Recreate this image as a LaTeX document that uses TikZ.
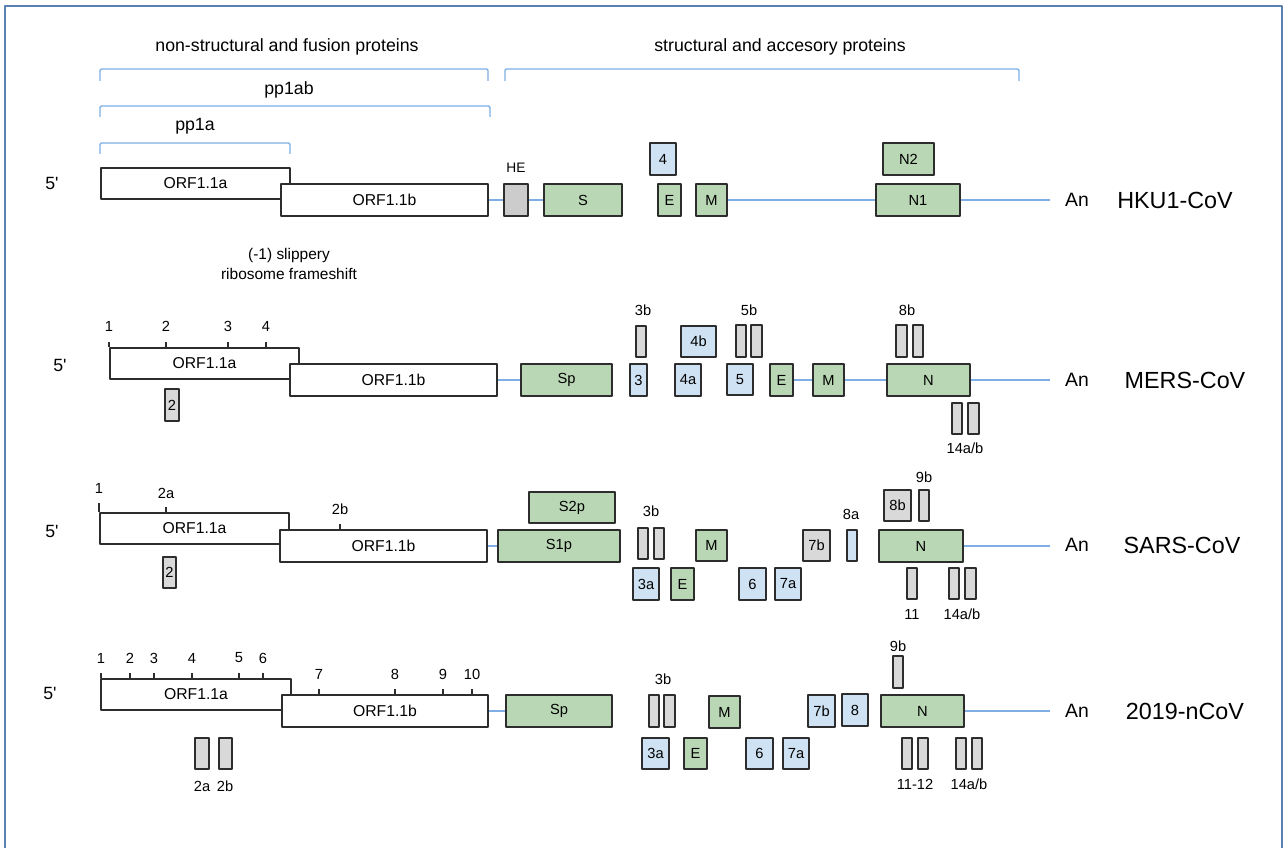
\documentclass[tikz,border=0pt]{standalone}
\usepackage{fontspec}
\setmainfont{Liberation Sans}
\definecolor{frameblue}{RGB}{91,128,178}
\definecolor{linkblue}{RGB}{125,175,228}
\definecolor{boxline}{RGB}{45,45,45}
\definecolor{strgreen}{RGB}{185,215,180}
\definecolor{accblue}{RGB}{207,226,243}
\definecolor{accgray}{RGB}{217,217,217}
\definecolor{hegray}{RGB}{204,204,204}
\tikzset{
  orf/.style={draw=boxline, line width=1.25pt, fill=white, inner sep=0pt, font=\fontsize{11.8}{14}\selectfont},
  str/.style={orf, fill=strgreen, font=\fontsize{11}{13}\selectfont},
  acc/.style={str, fill=accblue},
  mis/.style={str, fill=accgray},
  link/.style={draw=linkblue, line width=1pt},
  brace/.style={draw=linkblue, line width=1pt, rounded corners=1pt},
  lbl/.style={inner sep=0pt, font=\fontsize{11}{13}\selectfont},
  head/.style={inner sep=0pt, font=\fontsize{13.3}{16}\selectfont},
  virus/.style={inner sep=0pt, font=\fontsize{17.5}{20}\selectfont},
  polya/.style={inner sep=0pt, font=\fontsize{14.5}{17}\selectfont},
}
% box from its corners: style, name, x1, y1, x2, y2, text
\newcommand{\gene}[7]{%
  \pgfmathsetmacro{\genew}{0.75*(#5-#3)-1.2}%
  \pgfmathsetmacro{\geneh}{0.75*(#6-#4)-1.2}%
  \node[#1, minimum width=\genew pt, minimum height=\geneh pt] (#2) at ({(#3+#5)/2},{(#4+#6)/2}) {#7};}
\begin{document}
\begin{tikzpicture}[x=0.75pt, y=-0.75pt, line join=round]
\useasboundingbox (0,0) rectangle (1287,848);
\draw[frameblue, line width=1.6pt] (5,848) -- (5,6) -- (1282,6) -- (1282,848);
% headings and brackets
\node[head] (nsp) at (287,47) {non-structural and fusion proteins};
\node[head] (sap) at (780,47) {structural and accesory proteins};
\draw[brace] (100,81) -- (100,69) -- (488,69) -- (488,81);
\draw[brace] (505,81) -- (505,69) -- (1019,69) -- (1019,81);
\node[head] (pp1ab) at (289,90) {pp1ab};
\draw[brace] (100,117) -- (100,106) -- (490,106) -- (490,117);
\node[head] (pp1a) at (195,126) {pp1a};
\draw[brace] (100,154) -- (100,143) -- (290,143) -- (290,154);
\node[lbl, align=center, font=\fontsize{11.6}{14.3}\selectfont] (shift) at (289,264) {(-1) slippery\\ribosome frameshift};

% HKU1-CoV
\node[head] (fiveA) at (52,183) {5\textquotesingle};
\gene{orf}{a1}{100}{167}{291}{200}{ORF1.1a}
\gene{orf}{b1}{280}{183}{489}{217}{ORF1.1b}
\gene{str, fill=hegray}{he1}{503}{183}{529}{217}{}
\node[lbl, font=\fontsize{10.3}{12}\selectfont] (heA) at (516,168) {HE};
\gene{str}{s1}{543}{183}{623}{217}{S}
\gene{acc}{f1}{649}{142}{677}{176}{4}
\gene{str}{e1}{657}{183}{682}{217}{E}
\gene{str}{m1}{695}{183}{728}{217}{M}
\gene{str}{nb1}{882}{142}{935}{176}{N2}
\gene{str}{n1}{875}{183}{961}{217}{N1}
\coordinate (end1) at (1050,200);
\draw[link] (b1) -- (he1) (he1) -- (s1) (m1) -- (n1) (n1) -- (end1);
\node[polya] (an1) at (1077,200) {An};
\node[virus] (v1) at (1175,200) {HKU1-CoV};

% MERS-CoV
\node[head] (fiveB) at (60,365) {5\textquotesingle};
\gene{orf}{a2}{109}{347}{300}{380}{ORF1.1a}
\gene{orf}{b2}{289}{363}{498}{397}{ORF1.1b}
\foreach \x/\l in {109/1,166/2,228/3,266/4}
  {\draw[boxline, line width=0.8pt] (\x,347) -- (\x,342); \node[lbl] (mt\l) at (\x,326) {\l};}
\gene{mis}{two2}{164}{388}{180}{422}{2}
\gene{str}{sp2}{520}{363}{613}{397}{Sp}
\gene{mis}{tb2}{635}{325}{647}{358}{}
\node[lbl] (tbl2) at (643,310) {3b};
\gene{acc}{t2}{629}{363}{648}{397}{3}
\gene{acc}{fb2}{680}{325}{717}{358}{4b}
\gene{acc}{fa2}{674}{363}{702}{397}{4a}
\gene{mis}{vba2}{735}{324}{747}{358}{}
\gene{mis}{vbb2}{750}{324}{763}{358}{}
\node[lbl] (vbl2) at (749,310) {5b};
\gene{acc}{v2}{726}{363}{754}{396}{5}
\gene{str}{e2}{769}{363}{794}{397}{E}
\gene{str}{m2}{812}{363}{845}{397}{M}
\gene{mis}{eba2}{895}{324}{908}{358}{}
\gene{mis}{ebb2}{912}{324}{924}{358}{}
\node[lbl] (ebl2) at (907,310) {8b};
\gene{str}{n2}{886}{363}{971}{397}{N}
\gene{mis}{fta2}{951}{402}{963}{435}{}
\gene{mis}{ftb2}{967}{402}{980}{435}{}
\node[lbl] (ftl2) at (965,448) {14a/b};
\coordinate (end2) at (1050,380);
\draw[link] (b2) -- (sp2) (e2) -- (m2) (m2) -- (n2) (n2) -- (end2);
\node[polya] (an2) at (1077,380) {An};
\node[virus] (v2) at (1185,380) {MERS-CoV};

% SARS-CoV
\node[head] (fiveC) at (52,531) {5\textquotesingle};
\gene{orf}{a3}{99}{512}{290}{545}{ORF1.1a}
\gene{orf}{b3}{279}{529}{488}{563}{ORF1.1b}
\draw[boxline, line width=0.8pt] (99,512) -- (99,503) (166,512) -- (166,507) (340,529) -- (340,524);
\node[lbl] (st1) at (99,488) {1};
\node[lbl] (st2a) at (166,493) {2a};
\node[lbl] (st2b) at (340,509) {2b};
\gene{mis}{two3}{162}{556}{177}{589}{2}
\gene{str}{stp3}{528}{491}{616}{524}{S2p}
\gene{str}{sop3}{497}{529}{621}{563}{S1p}
\gene{mis}{tba3}{637}{527}{649}{560}{}
\gene{mis}{tbb3}{653}{527}{665}{560}{}
\node[lbl] (tbl3) at (651,511) {3b};
\gene{acc}{ta3}{632}{567}{660}{601}{3a}
\gene{str}{e3}{670}{567}{695}{601}{E}
\gene{str}{m3}{695}{529}{728}{562}{M}
\gene{acc}{x3}{738}{567}{767}{601}{6}
\gene{acc}{sa3}{774}{567}{802}{601}{7a}
\gene{mis}{sb3}{802}{529}{831}{562}{7b}
\gene{acc}{ea3}{846}{529}{858}{562}{}
\node[lbl] (eal3) at (851,514) {8a};
\gene{mis}{eb3}{883}{489}{912}{522}{8b}
\gene{mis}{nb3}{918}{489}{930}{522}{}
\node[lbl] (nbl3) at (924,477) {9b};
\gene{str}{n3}{878}{529}{964}{563}{N}
\gene{mis}{el3}{906}{567}{918}{600}{}
\node[lbl] (ell3) at (912,614) {11};
\gene{mis}{fta3}{948}{567}{960}{600}{}
\gene{mis}{ftb3}{964}{567}{977}{600}{}
\node[lbl] (ftl3) at (962,614) {14a/b};
\coordinate (end3) at (1050,546);
\draw[link] (b3) -- (sop3) (n3) -- (end3);
\node[polya] (an3) at (1077,545) {An};
\node[virus] (v3) at (1182,545) {SARS-CoV};

% 2019-nCoV
\node[head] (fiveD) at (50,693) {5\textquotesingle};
\gene{orf}{a4}{100}{678}{292}{711}{ORF1.1a}
\gene{orf}{b4}{281}{694}{489}{728}{ORF1.1b}
\foreach \x/\l in {101/1,130/2,154/3,192/4,239/5,263/6}
  {\draw[boxline, line width=0.8pt] (\x,678) -- (\x,673); \node[lbl] (nt\l) at (\x,658) {\l};}
\foreach \x/\l in {319/7,395/8,443/9,472/10}
  {\draw[boxline, line width=0.8pt] (\x,694) -- (\x,689); \node[lbl] (nt\l) at (\x,674) {\l};}
\gene{mis}{twa4}{194}{737}{210}{770}{}
\gene{mis}{twb4}{218}{737}{233}{770}{}
\node[lbl] (twal4) at (202,786) {2a};
\node[lbl] (twbl4) at (225,786) {2b};
\gene{str}{sp4}{505}{694}{613}{728}{Sp}
\gene{mis}{tba4}{648}{694}{660}{728}{}
\gene{mis}{tbb4}{663}{694}{676}{728}{}
\node[lbl] (tbl4) at (663,679) {3b};
\gene{str}{m4}{708}{695}{741}{729}{M}
\gene{acc}{ta4}{641}{737}{670}{770}{3a}
\gene{str}{e4}{683}{737}{708}{770}{E}
\gene{acc}{x4}{745}{737}{774}{770}{6}
\gene{acc}{sa4}{782}{737}{810}{770}{7a}
\gene{acc}{sb4}{807}{694}{836}{728}{7b}
\gene{acc}{ei4}{841}{693}{869}{727}{8}
\gene{mis}{nb4}{892}{655}{904}{689}{}
\node[lbl] (nbl4) at (898,646) {9b};
\gene{str}{n4}{880}{694}{965}{728}{N}
\gene{mis}{ela4}{901}{737}{913}{770}{}
\gene{mis}{elb4}{917}{737}{929}{770}{}
\node[lbl] (ell4) at (915,784) {11-12};
\gene{mis}{fta4}{955}{737}{967}{770}{}
\gene{mis}{ftb4}{971}{737}{983}{770}{}
\node[lbl] (ftl4) at (969,784) {14a/b};
\coordinate (end4) at (1050,711);
\draw[link] (b4) -- (sp4) (n4) -- (end4);
\node[polya] (an4) at (1077,711) {An};
\node[virus] (v4) at (1185,711) {2019-nCoV};
\end{tikzpicture}
\end{document}
